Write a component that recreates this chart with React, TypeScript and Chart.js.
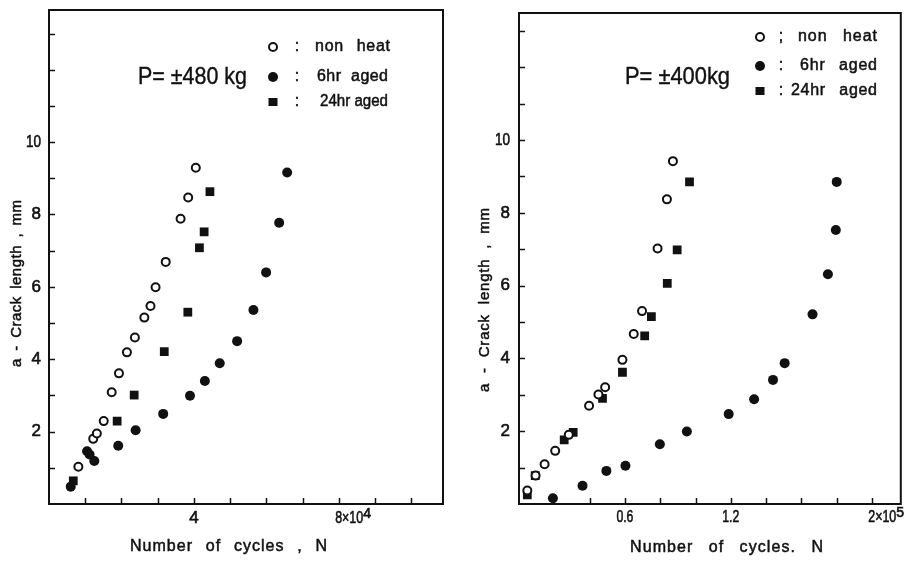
import React, { useEffect, useRef } from "react";
import { Chart, registerables } from "chart.js";

Chart.register(...registerables);

// ---------- DATA (left panel: N in 10^4 cycles, a in mm) ----------
const leftNonHeatN = [0.81, 1.22, 1.32, 1.51, 1.73, 1.93, 2.15, 2.37, 2.63, 2.8, 2.94, 3.22, 3.63, 3.84, 4.05];
const leftNonHeatA = [1.03, 1.8, 1.95, 2.29, 3.09, 3.61, 4.19, 4.6, 5.15, 5.47, 5.99, 6.69, 7.88, 8.47, 9.29];

const left6hrN = [0.6, 1.05, 1.12, 1.25, 1.91, 2.39, 3.15, 3.89, 4.3, 4.71, 5.19, 5.64, 5.99, 6.35, 6.57];
const left6hrA = [0.48, 1.46, 1.37, 1.19, 1.61, 2.04, 2.49, 2.99, 3.4, 3.89, 4.5, 5.36, 6.4, 7.77, 9.16];

const left24hrN = [0.67, 1.88, 2.35, 3.18, 3.83, 4.15, 4.28, 4.44];
const left24hrA = [0.64, 2.29, 3.01, 4.21, 5.3, 7.08, 7.52, 8.63];

// ---------- DATA (right panel: N in 10^5 cycles, a in mm) ----------
const rightNonHeatN = [0.047, 0.094, 0.145, 0.205, 0.282, 0.397, 0.45, 0.488, 0.586, 0.65, 0.697, 0.785, 0.838, 0.872];
const rightNonHeatA = [0.37, 0.78, 1.09, 1.46, 1.9, 2.7, 3.01, 3.21, 3.96, 4.67, 5.3, 7.02, 8.37, 9.42];

const right6hrN = [0.192, 0.36, 0.495, 0.603, 0.798, 0.951, 1.188, 1.332, 1.439, 1.505, 1.663, 1.75, 1.795, 1.8];
const right6hrA = [0.16, 0.5, 0.91, 1.05, 1.64, 1.99, 2.47, 2.88, 3.41, 3.87, 5.21, 6.31, 7.53, 8.85];

const right24hrN = [0.047, 0.092, 0.256, 0.307, 0.473, 0.586, 0.712, 0.75, 0.84, 0.896, 0.966];
const right24hrA = [0.25, 0.78, 1.76, 1.97, 2.9, 3.62, 4.62, 5.15, 6.06, 6.98, 8.85];

// ---------- TICKS / LABELS ----------
const yTickValues = [2, 4, 6, 8, 10];
const leftXTickValues = [4, 8];
const leftXTickLabels = ["4", "8×10|4"];
const rightXTickValues = [0.6, 1.2, 2.0];
const rightXTickLabels = ["0.6", "1.2", "2×10|5"];
const legendLabels = ["non heat", "6hr aged", "24hr aged"];
const leftLoadLabel = "P= ±480 kg";
const rightLoadLabel = "P= ±400kg";
const yTitleText = "a - Crack length , mm";
const leftXTitle = "Number of cycles , N";
const rightXTitle = "Number of cycles. N";

type Pt = { x: number; y: number };
const zip = (xs: number[], ys: number[]): Pt[] => xs.map((x, i) => ({ x, y: ys[i] }));

const FONT = "'Liberation Sans', 'DejaVu Sans', Arial, sans-serif";
const INK = "#111";

function paint(ctx: CanvasRenderingContext2D, text: string, x: number, y: number, maxW?: number) {
  if (maxW !== undefined) {
    ctx.fillText(text, x, y, maxW);
    ctx.strokeText(text, x, y, maxW);
  } else {
    ctx.fillText(text, x, y);
    ctx.strokeText(text, x, y);
  }
}

// draw text between x0 and x1: extra room split between letter gaps and word gaps
function fitText(ctx: CanvasRenderingContext2D, text: string, x0: number, x1: number, y: number) {
  const T = x1 - x0;
  ctx.textAlign = "left";
  const w = ctx.measureText(text).width;
  if (w >= T) {
    paint(ctx, text, x0, y, T);
    return;
  }
  const chars = Array.from(text);
  if (chars.length < 2) {
    paint(ctx, text, x0, y);
    return;
  }
  const spaces = chars.filter((c) => c === " ").length;
  const extra = T - w;
  const letterShare = spaces > 0 ? 0.4 : 1;
  const perGap = (extra * letterShare) / (chars.length - 1);
  const perSpace = spaces > 0 ? (extra * (1 - letterShare)) / spaces : 0;
  let x = x0;
  for (const c of chars) {
    if (c !== " ") paint(ctx, c, x, y);
    x += ctx.measureText(c).width + perGap + (c === " " ? perSpace : 0);
  }
}

function drawMarker(ctx: CanvasRenderingContext2D, kind: number, x: number, y: number) {
  ctx.save();
  ctx.strokeStyle = INK;
  ctx.fillStyle = INK;
  if (kind === 0) {
    ctx.lineWidth = 2;
    ctx.fillStyle = "#fff";
    ctx.beginPath();
    ctx.arc(x, y, 4, 0, Math.PI * 2);
    ctx.fill();
    ctx.stroke();
  } else if (kind === 1) {
    ctx.beginPath();
    ctx.arc(x, y, 5, 0, Math.PI * 2);
    ctx.fill();
  } else {
    ctx.fillRect(x - 4.5, y - 4, 9, 8);
  }
  ctx.restore();
}

type PanelCfg = {
  offset: number;
  width: number;
  padding: { left: number; right: number; top: number; bottom: number };
  xMax: number;
  yMax: number;
  xStep: number;
  data: Pt[][];
  xTickValues: number[];
  xTickLabels: string[];
  xLabelY: number;
  yLabelRight: number;
  yTitle: { cx: number; y0: number; y1: number };
  xTitle: { text: string; x0: number; x1: number; y: number };
  load: { text: string; x0: number; x1: number; y: number };
  legend: { markerX: number; colonX: number; seps: string[]; rows: { y: number; x0: number; x1: number }[] };
};

const leftCfg: PanelCfg = {
  offset: 0,
  width: 453,
  padding: { left: 49, right: 10, top: 10, bottom: 57 },
  xMax: 10.87,
  yMax: 13.65,
  xStep: 1,
  data: [zip(leftNonHeatN, leftNonHeatA), zip(left6hrN, left6hrA), zip(left24hrN, left24hrA)],
  xTickValues: leftXTickValues,
  xTickLabels: leftXTickLabels,
  xLabelY: 518,
  yLabelRight: 41,
  yTitle: { cx: 17, y0: 367, y1: 200 },
  xTitle: { text: leftXTitle, x0: 130, x1: 327, y: 547 },
  load: { text: leftLoadLabel, x0: 138, x1: 247, y: 77 },
  legend: {
    markerX: 273,
    colonX: 297,
    seps: [":", ":", ":"],
    rows: [
      { y: 47, x0: 315, x1: 390 },
      { y: 77, x0: 317, x1: 388 },
      { y: 102, x0: 320, x1: 388 },
    ],
  },
};

const rightCfg: PanelCfg = {
  offset: 453,
  width: 454,
  padding: { left: 66, right: 4, top: 13, bottom: 57 },
  xMax: 2.163,
  yMax: 13.49,
  xStep: 0.2,
  data: [zip(rightNonHeatN, rightNonHeatA), zip(right6hrN, right6hrA), zip(right24hrN, right24hrA)],
  xTickValues: rightXTickValues,
  xTickLabels: rightXTickLabels,
  xLabelY: 517,
  yLabelRight: 510,
  yTitle: { cx: 485, y0: 392, y1: 208 },
  xTitle: { text: rightXTitle, x0: 630, x1: 823, y: 548 },
  load: { text: rightLoadLabel, x0: 625, x1: 730, y: 77 },
  legend: {
    markerX: 760,
    colonX: 781,
    seps: [";", ":", ":"],
    rows: [
      { y: 37, x0: 798, x1: 877 },
      { y: 66, x0: 800, x1: 877 },
      { y: 91, x0: 791, x1: 877 },
    ],
  },
};

function Panel({ cfg }: { cfg: PanelCfg }) {
  const ref = useRef<HTMLCanvasElement | null>(null);
  useEffect(() => {
    if (!ref.current) return;
    const off = cfg.offset;
    const frame = {
      id: "frame",
      afterDraw(chart: any) {
        const ctx: CanvasRenderingContext2D = chart.ctx;
        const a = chart.chartArea;
        const xs = chart.scales.x;
        const ys = chart.scales.y;
        ctx.save();
        ctx.strokeStyle = INK;
        ctx.fillStyle = INK;
        // frame
        ctx.lineWidth = 2;
        ctx.strokeRect(a.left, a.top, a.right - a.left, a.bottom - a.top);
        // inward ticks
        ctx.lineWidth = 1.5;
        ctx.beginPath();
        const nx = Math.floor(cfg.xMax / cfg.xStep + 1e-6);
        for (let i = 1; i <= nx; i++) {
          const px = Math.round(xs.getPixelForValue(i * cfg.xStep)) + 0.5;
          if (px >= a.right - 2) continue;
          ctx.moveTo(px, a.bottom);
          ctx.lineTo(px, a.bottom - 6);
        }
        for (let v = 1; v < cfg.yMax; v++) {
          const py = Math.round(ys.getPixelForValue(v)) + 0.5;
          ctx.moveTo(a.left, py);
          ctx.lineTo(a.left + 6, py);
        }
        ctx.stroke();
        ctx.lineWidth = 0.6;
        // y tick labels
        ctx.font = `17px ${FONT}`;
        ctx.textBaseline = "middle";
        ctx.textAlign = "right";
        for (const v of yTickValues) {
          const py = ys.getPixelForValue(v);
          paint(ctx, String(v), cfg.yLabelRight - off, py, v >= 10 ? 15 : 10);
        }
        // x tick labels
        cfg.xTickValues.forEach((v, i) => {
          const lbl = cfg.xTickLabels[i];
          const px = xs.getPixelForValue(v);
          ctx.font = `17px ${FONT}`;
          if (lbl.includes("|")) {
            const [base, exp] = lbl.split("|");
            const w0 = ctx.measureText(base[0]).width * 0.8;
            ctx.textAlign = "left";
            const bw = Math.min(ctx.measureText(base).width, 28);
            paint(ctx, base, px - w0 / 2, cfg.xLabelY, 28);
            ctx.font = `14px ${FONT}`;
            paint(ctx, exp, px - w0 / 2 + bw, cfg.xLabelY - 4, 8);
          } else {
            ctx.textAlign = "center";
            paint(ctx, lbl, px, cfg.xLabelY, lbl.length > 1 ? 17 : undefined);
          }
        });
        // axis titles
        ctx.lineWidth = 0.5;
        ctx.textBaseline = "middle";
        ctx.font = `16px ${FONT}`;
        fitText(ctx, cfg.xTitle.text, cfg.xTitle.x0 - off, cfg.xTitle.x1 - off, cfg.xTitle.y);
        ctx.font = `15px ${FONT}`;
        ctx.save();
        ctx.translate(cfg.yTitle.cx - off, cfg.yTitle.y0);
        ctx.rotate(-Math.PI / 2);
        fitText(ctx, yTitleText, 0, cfg.yTitle.y0 - cfg.yTitle.y1, 0);
        ctx.restore();
        // load annotation
        ctx.font = `24px ${FONT}`;
        ctx.lineWidth = 0.4;
        fitText(ctx, cfg.load.text, cfg.load.x0 - off, cfg.load.x1 - off, cfg.load.y);
        // legend
        ctx.font = `16px ${FONT}`;
        ctx.lineWidth = 0.5;
        cfg.legend.rows.forEach((r, i) => {
          drawMarker(ctx, i, cfg.legend.markerX - off, r.y);
          ctx.textAlign = "center";
          paint(ctx, cfg.legend.seps[i], cfg.legend.colonX - off, r.y);
          fitText(ctx, legendLabels[i], r.x0 - off, r.x1 - off, r.y);
        });
        ctx.restore();
      },
    };

    const chart = new Chart(ref.current, {
      type: "scatter",
      data: {
        datasets: [
          {
            label: legendLabels[0],
            data: cfg.data[0],
            pointStyle: "circle",
            pointRadius: 4,
            borderWidth: 2,
            borderColor: INK,
            backgroundColor: "#fff",
          },
          {
            label: legendLabels[1],
            data: cfg.data[1],
            pointStyle: "circle",
            pointRadius: 5,
            borderWidth: 0,
            borderColor: INK,
            backgroundColor: INK,
          },
          {
            label: legendLabels[2],
            data: cfg.data[2],
            pointStyle: "rect",
            pointRadius: 6.2,
            borderWidth: 0,
            borderColor: INK,
            backgroundColor: INK,
          },
        ],
      },
      options: {
        animation: false,
        responsive: false,
        maintainAspectRatio: false,
        devicePixelRatio: 1,
        layout: { padding: cfg.padding },
        plugins: { legend: { display: false }, tooltip: { enabled: false } },
        scales: {
          x: { type: "linear", min: 0, max: cfg.xMax, display: false },
          y: { type: "linear", min: 0, max: cfg.yMax, display: false },
        },
      } as any,
      plugins: [frame],
    });
    return () => chart.destroy();
  }, [cfg]);
  return (
    <canvas
      ref={ref}
      width={cfg.width}
      height={561}
      style={{ position: "absolute", left: cfg.offset, top: 0, width: cfg.width, height: 561 }}
    />
  );
}

export default function App() {
  return (
    <div style={{ position: "absolute", left: 0, top: 0, width: 907, height: 561, background: "#fff" }}>
      <Panel cfg={leftCfg} />
      <Panel cfg={rightCfg} />
    </div>
  );
}
